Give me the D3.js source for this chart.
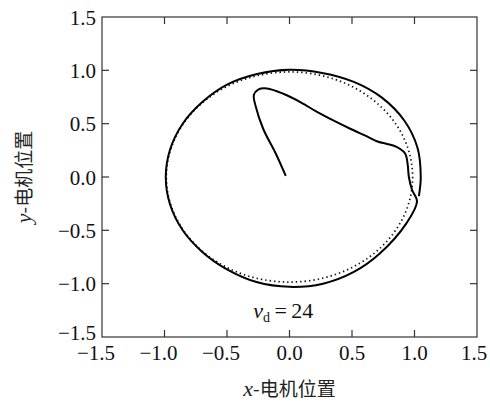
<!DOCTYPE html>
<html>
<head>
<meta charset="utf-8">
<script src="https://cdn.jsdelivr.net/npm/d3@7"></script>
</head>
<body style="margin:0">
<div id="chart"></div>
<script>
// axis ticks
const xTicks = [-1.5, -1.0, -0.5, 0.0, 0.5, 1.0, 1.5];
const yTicks = [-1.5, -1.0, -0.5, 0.0, 0.5, 1.0, 1.5];
const innerTicks = [-1.0, -0.5, 0.0, 0.5, 1.0];

// desired trajectory (dotted circle)
const refCenter = [0.0, 0.0];
const refRadius = 0.985;

const trajX = [
  -0.03, -0.11, -0.21, -0.27, -0.285, -0.25, -0.18, -0.05, 0.09, 0.22,
  0.35, 0.49, 0.62, 0.71, 0.78, 0.86, 0.925, 0.945, 0.955, 0.98,
  1.02, 0.935, 0.72, 0.515, 0.268, 0.0, -0.264, -0.50, -0.70, -0.857,
  -0.956, -0.99, -0.956, -0.857, -0.70, -0.50, -0.259, 0.0, 0.261, 0.515,
  0.742, 0.918, 1.024, 1.05, 1.035
];
const trajY = [
  0.01, 0.22, 0.45, 0.66, 0.77, 0.82, 0.83, 0.78, 0.70, 0.61,
  0.53, 0.45, 0.38, 0.33, 0.31, 0.28, 0.22, 0.12, 0.0, -0.12,
  -0.23, -0.435, -0.72, -0.89, -1.0, -1.03, -0.985, -0.866, -0.70, -0.495,
  -0.256, 0.0, 0.256, 0.495, 0.70, 0.866, 0.966, 1.005, 0.976, 0.892,
  0.742, 0.53, 0.274, 0.0, -0.18
];

const vdLabel = "24";

const serifFont = "'Liberation Serif', 'Times New Roman', serif";
const cjkFont = "'Noto Sans CJK SC', sans-serif";

const width = 490;
const height = 403;
const margin = { top: 17, right: 13, bottom: 66, left: 102 };
const innerW = width - margin.left - margin.right;
const innerH = height - margin.top - margin.bottom;

const svg = d3.select("#chart")
  .append("svg")
  .attr("width", width)
  .attr("height", height);

const g = svg.append("g")
  .attr("transform", `translate(${margin.left},${margin.top})`);

const x = d3.scaleLinear().domain([-1.5, 1.5]).range([0, innerW]);
const y = d3.scaleLinear().domain([-1.5, 1.5]).range([innerH, 0]);
const fmt = d3.format(".1f");
const tickLen = 7;
const ink = "#333";

// reference circle
g.append("ellipse")
  .attr("fill", "none")
  .attr("stroke", "#111")
  .attr("stroke-width", 1.7)
  .attr("stroke-dasharray", "1.4 3")
  .attr("cx", x(refCenter[0]))
  .attr("cy", y(refCenter[1]))
  .attr("rx", x(refRadius) - x(0))
  .attr("ry", y(0) - y(refRadius));

// measured trajectory
const traj = trajX.map((d, i) => [d, trajY[i]]);
const line = d3.line()
  .x((d) => x(d[0]))
  .y((d) => y(d[1]))
  .curve(d3.curveCatmullRom.alpha(0.5));

g.append("path")
  .attr("fill", "none")
  .attr("stroke", "#000")
  .attr("stroke-width", 2)
  .attr("stroke-linejoin", "round")
  .attr("d", line(traj));

// frame
g.append("rect")
  .attr("fill", "none")
  .attr("stroke", ink)
  .attr("stroke-width", 1.2)
  .attr("width", innerW)
  .attr("height", innerH);

// inward ticks on all four sides
const tickSides = [
  { x1: (d) => x(d), x2: (d) => x(d), y1: () => innerH, y2: () => innerH - tickLen },
  { x1: (d) => x(d), x2: (d) => x(d), y1: () => 0, y2: () => tickLen },
  { x1: () => 0, x2: () => tickLen, y1: (d) => y(d), y2: (d) => y(d) },
  { x1: () => innerW, x2: () => innerW - tickLen, y1: (d) => y(d), y2: (d) => y(d) }
];
tickSides.forEach((s) => {
  g.append("g")
    .selectAll("line")
    .data(innerTicks)
    .join("line")
    .attr("stroke", ink)
    .attr("stroke-width", 1.2)
    .attr("x1", s.x1).attr("x2", s.x2)
    .attr("y1", s.y1).attr("y2", s.y2);
});

// tick labels
g.append("g")
  .selectAll("text")
  .data(xTicks)
  .join("text")
  .style("font-family", serifFont, "important")
  .style("font-size", "21px")
  .attr("fill", "#111")
  .attr("text-anchor", "middle")
  .attr("x", (d) => x(d) + (d < 0 ? -6 : 0) + (d === 1.5 ? -3 : 0))
  .attr("y", innerH + 23)
  .text(fmt);

g.append("g")
  .selectAll("text")
  .data(yTicks)
  .join("text")
  .style("font-family", serifFont, "important")
  .style("font-size", "21px")
  .attr("fill", "#111")
  .attr("text-anchor", "end")
  .attr("x", -6)
  .attr("y", (d) => y(d) + (d === -1.5 ? -5 : 0))
  .attr("dy", "0.36em")
  .text(fmt);

// axis titles
const xTitle = g.append("text")
  .style("font-family", cjkFont, "important")
  .style("font-size", "19px")
  .attr("fill", "#222")
  .attr("text-anchor", "middle")
  .attr("x", x(0))
  .attr("y", innerH + 59);
xTitle.append("tspan")
  .style("font-family", serifFont, "important")
  .style("font-style", "italic")
  .style("font-size", "22px")
  .text("x");
xTitle.append("tspan").text("-电机位置");

const yTitle = g.append("text")
  .style("font-family", cjkFont, "important")
  .style("font-size", "19px")
  .attr("fill", "#222")
  .attr("text-anchor", "middle")
  .attr("transform", `translate(${-71},${y(0)}) rotate(-90)`);
yTitle.append("tspan")
  .style("font-family", serifFont, "important")
  .style("font-style", "italic")
  .style("font-size", "22px")
  .text("y");
yTitle.append("tspan").text("-电机位置");

// v_d annotation
const note = g.append("text")
  .style("font-family", serifFont, "important")
  .style("font-size", "22px")
  .attr("fill", "#111")
  .attr("x", x(-0.29))
  .attr("y", y(-1.325));
note.append("tspan").style("font-style", "italic").text("v");
note.append("tspan").attr("dy", 4).style("font-size", "14px").text("d");
note.append("tspan").attr("dy", -4).text("\u2009=\u2009" + vdLabel);
</script>
</body>
</html>
